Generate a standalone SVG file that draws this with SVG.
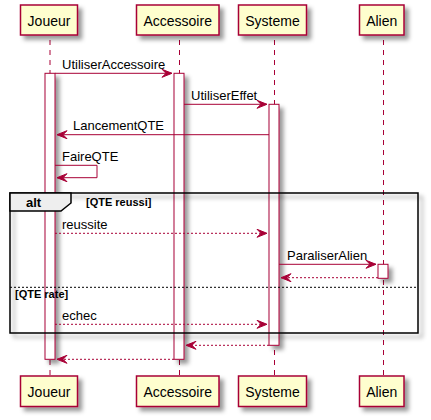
<svg xmlns="http://www.w3.org/2000/svg" width="431" height="420" viewBox="0 0 431 420">
<defs>
<filter id="sh" x="-1" y="-1" width="300%" height="300%">
<feGaussianBlur in="SourceAlpha" stdDeviation="2" result="b"/>
<feColorMatrix in="b" type="matrix" values="0 0 0 0 0 0 0 0 0 0 0 0 0 0 0 0 0 0 0.4 0" result="c"/>
<feOffset in="c" dx="4" dy="4" result="o"/>
<feBlend in="SourceGraphic" in2="o" mode="normal"/>
</filter>
</defs>
<style>
.life{stroke:#A80036;stroke-width:1;stroke-dasharray:5,5;fill:none}
.part rect{fill:#FEFECE;stroke:#A80036;stroke-width:1.5;filter:url(#sh)}
.part text{font-family:"Liberation Sans",Arial,sans-serif;font-size:14px;fill:#000;text-anchor:middle}
.act{fill:#FFFFFF;stroke:#A80036;stroke-width:1;filter:url(#sh)}
.msg{stroke:#A80036;stroke-width:1;fill:none}
.dash{stroke-dasharray:2,2}
.head{fill:#A80036;stroke:#A80036;stroke-width:1}
.lbl{font-family:"Liberation Sans",Arial,sans-serif;font-size:13px;fill:#000}
.frame{fill:none;stroke:#000;stroke-width:1.5;filter:url(#sh)}
.tab{fill:#EEEEEE;stroke:#000;stroke-width:1.5}
.b13{font-family:"Liberation Sans",Arial,sans-serif;font-size:13px;font-weight:bold;fill:#000}
.b11{font-family:"Liberation Sans",Arial,sans-serif;font-size:11px;font-weight:bold;fill:#000}
</style>
<g id="lifelines">
<line class="life" x1="50" y1="40" x2="50" y2="376"/>
<line class="life" x1="179.5" y1="40" x2="179.5" y2="376"/>
<line class="life" x1="274.5" y1="40" x2="274.5" y2="376"/>
<line class="life" x1="383.5" y1="40" x2="383.5" y2="376"/>
</g>
<g id="Joueur" class="part">
<rect x="20.5" y="5" width="57" height="30"/>
<text x="49" y="25.5">Joueur</text>
<rect x="20.5" y="376" width="57" height="30.5"/>
<text x="49" y="396.5">Joueur</text>
</g>
<g id="Accessoire" class="part">
<rect x="136.5" y="5" width="82.5" height="30"/>
<text x="177.7" y="25.5">Accessoire</text>
<rect x="136.5" y="376" width="82.5" height="30.5"/>
<text x="177.7" y="396.5">Accessoire</text>
</g>
<g id="Systeme" class="part">
<rect x="238.5" y="5" width="68" height="30"/>
<text x="272.5" y="25.5">Systeme</text>
<rect x="238.5" y="376" width="68" height="30.5"/>
<text x="272.5" y="396.5">Systeme</text>
</g>
<g id="Alien" class="part">
<rect x="359.5" y="5" width="44.5" height="30"/>
<text x="381.7" y="25.5">Alien</text>
<rect x="359.5" y="376" width="44.5" height="30.5"/>
<text x="381.7" y="396.5">Alien</text>
</g>
<g id="activations">
<rect class="act" x="45" y="73.3" width="10" height="286"/>
<rect class="act" x="174" y="73.3" width="10" height="286"/>
<rect class="act" x="269" y="104.3" width="10" height="241"/>
<rect class="act" x="378" y="264.3" width="10" height="14"/>
</g>
<g id="alt">
<rect class="frame" x="10" y="193" width="408" height="140"/>
<polygon class="tab" points="10,193 71,193 71,203 61,211 10,211"/>
<text class="b13" x="26" y="206.5">alt</text>
<text class="b11" x="86" y="206">[QTE reussi]</text>
<line x1="10" y1="287.3" x2="418" y2="287.3" stroke="#000" stroke-width="1" stroke-dasharray="2,2"/>
<text class="b11" x="15" y="298">[QTE rate]</text>
</g>
<g id="connectors">
<line class="msg" x1="55" y1="73.3" x2="172" y2="73.3"/>
<polygon class="head" points="162,69.3 172,73.3 162,77.3 166,73.3"/>
<text class="lbl" x="62" y="68.5">UtiliserAccessoire</text>

<line class="msg" x1="184" y1="104.3" x2="267" y2="104.3"/>
<polygon class="head" points="257,100.3 267,104.3 257,108.3 261,104.3"/>
<text class="lbl" x="191" y="99.5">UtiliserEffet</text>

<line class="msg" x1="269" y1="134.7" x2="57" y2="134.7"/>
<polygon class="head" points="67,130.7 57,134.7 67,138.7 63,134.7"/>
<text class="lbl" x="73" y="130">LancementQTE</text>

<polyline class="msg" points="55,165.3 97,165.3 97,177.7 57,177.7"/>
<polygon class="head" points="67,173.7 57,177.7 67,181.7 63,177.7"/>
<text class="lbl" x="62" y="160.5">FaireQTE</text>

<line class="msg dash" x1="55" y1="233.3" x2="267" y2="233.3"/>
<polygon class="head" points="257,229.3 267,233.3 257,237.3 261,233.3"/>
<text class="lbl" x="62" y="228.5">reussite</text>

<line class="msg" x1="279" y1="264.3" x2="376" y2="264.3"/>
<polygon class="head" points="366,260.3 376,264.3 366,268.3 370,264.3"/>
<text class="lbl" x="287" y="259.5">ParaliserAlien</text>

<line class="msg dash" x1="378" y1="277.7" x2="281" y2="277.7"/>
<polygon class="head" points="291,273.7 281,277.7 291,281.7 287,277.7"/>

<line class="msg dash" x1="55" y1="324.3" x2="267" y2="324.3"/>
<polygon class="head" points="257,320.3 267,324.3 257,328.3 261,324.3"/>
<text class="lbl" x="62" y="319.5">echec</text>

<line class="msg dash" x1="269" y1="345.3" x2="186" y2="345.3"/>
<polygon class="head" points="196,341.3 186,345.3 196,349.3 192,345.3"/>

<line class="msg dash" x1="174" y1="359.3" x2="57" y2="359.3"/>
<polygon class="head" points="67,355.3 57,359.3 67,363.3 63,359.3"/>
</g>
</svg>
